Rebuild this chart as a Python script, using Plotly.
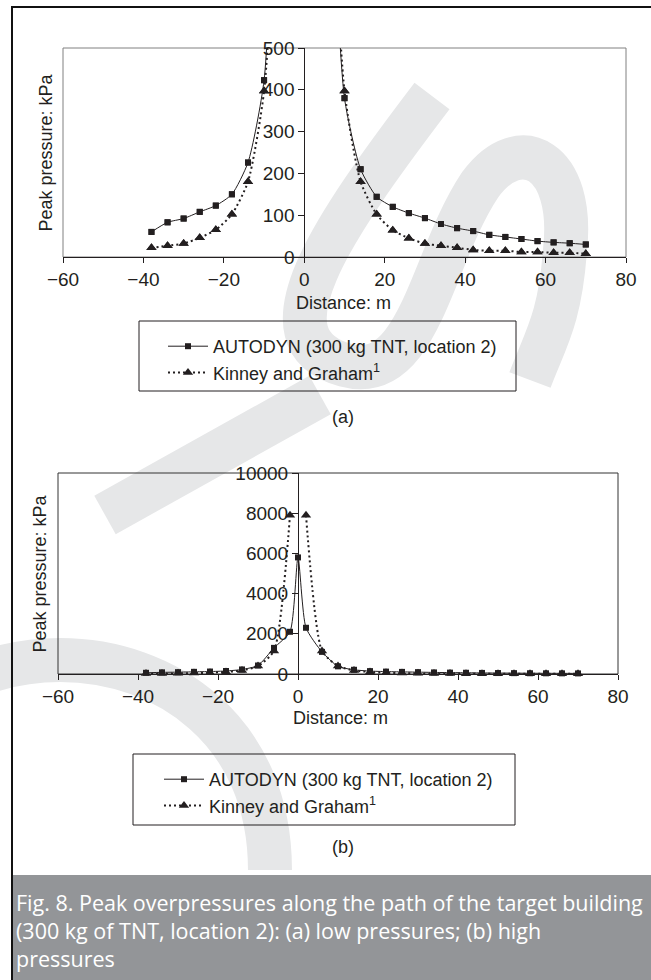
import plotly.graph_objects as go

W, H = 651, 980
FONT = "Liberation Sans, Arial, sans-serif"
CAP_FONT = "Open Sans, Lato, sans-serif"
INK = "#231f20"
MARK = "#e6e7e8"   # light grey watermark

# ---------------- data ----------------
distance_autodyn = [-38, -34, -30, -26, -22, -18, -14, -10, -6, -2, 0, 2, 6,
                    10, 14, 18, 22, 26, 30, 34, 38, 42, 46, 50, 54, 58, 62, 66, 70]
pressure_autodyn = [60, 83, 92, 108, 123, 150, 226, 423, 1300, 2100, 5800, 2300, 1100,
                    380, 210, 144, 120, 105, 93, 79, 69, 62, 53, 48, 43, 38, 35, 33, 30]

distance_kinney_left = [-38, -34, -30, -26, -22, -18, -14, -10, -6, -2]
pressure_kinney_left = [22, 27, 32, 46, 65, 102, 180, 397, 1150, 7900]
distance_kinney_right = [2, 6, 10, 14, 18, 22, 26, 30, 34, 38, 42, 46, 50, 54, 58, 62, 66, 70]
pressure_kinney_right = [7900, 1150, 397, 180, 102, 64, 45, 32, 27, 22, 17, 15, 15, 12, 12, 10, 10, 8]

x_ticks = [-60, -40, -20, 0, 20, 40, 60, 80]
y_ticks_a = [0, 100, 200, 300, 400, 500]
y_ticks_b = [0, 2000, 4000, 6000, 8000, 10000]

name_autodyn = "AUTODYN (300 kg TNT, location 2)"
name_kinney = "Kinney and Graham<sup>1</sup>"

# Kinney curve has a gap at the charge (x = 0)
dist_kinney = distance_kinney_left + [None] + distance_kinney_right
pres_kinney = pressure_kinney_left + [None] + pressure_kinney_right


def px(x):
    return x / W


def py(y):
    return 1 - y / H


def path(cmds):
    """Build an SVG path in paper units from (command, [(x, y), ...]) in pixels."""
    out = []
    for c, pts in cmds:
        out.append(c + " ".join(f"{px(x):.4f},{py(y):.4f}" for x, y in pts))
    return " ".join(out)


# panel geometry (pixels)
A = dict(l=63, r=626, t=48, b=257)
B = dict(l=58, r=618, t=473, b=674)
xr = [x_ticks[0], x_ticks[-1]]

fig = go.Figure()

auto_line = dict(color=INK, width=1, shape="spline", smoothing=0.6)
auto_marker = dict(symbol="square", size=6, color=INK)
kin_line = dict(color=INK, width=2, dash="2px,3px", shape="spline", smoothing=0.6)
kin_marker = dict(symbol="triangle-up", size=9, color=INK)

# ---------- panel (a) ----------
fig.add_trace(go.Scatter(x=distance_autodyn, y=pressure_autodyn, mode="lines+markers",
                         name=name_autodyn, line=auto_line, marker=auto_marker,
                         xaxis="x", yaxis="y", legend="legend", cliponaxis=True))
fig.add_trace(go.Scatter(x=dist_kinney, y=pres_kinney, mode="lines+markers",
                         name=name_kinney, line=kin_line, marker=kin_marker,
                         xaxis="x", yaxis="y", legend="legend", cliponaxis=True))
# markers inside the low-pressure range drawn unclipped (so they sit on the axis)
ymax_a = y_ticks_a[-1]
ia = [(d, p) for d, p in zip(distance_autodyn, pressure_autodyn) if p <= ymax_a]
ik = [(d, p) for d, p in zip(dist_kinney, pres_kinney) if p is not None and p <= ymax_a]
fig.add_trace(go.Scatter(x=[d for d, _ in ia], y=[p for _, p in ia], mode="markers",
                         marker=auto_marker, showlegend=False, xaxis="x", yaxis="y",
                         cliponaxis=False, hoverinfo="skip"))
fig.add_trace(go.Scatter(x=[d for d, _ in ik], y=[p for _, p in ik], mode="markers",
                         marker=kin_marker, showlegend=False, xaxis="x", yaxis="y",
                         cliponaxis=False, hoverinfo="skip"))

# ---------- panel (b) ----------
fig.add_trace(go.Scatter(x=distance_autodyn, y=pressure_autodyn, mode="lines+markers",
                         name=name_autodyn, line=auto_line, marker=auto_marker,
                         xaxis="x2", yaxis="y2", legend="legend2", cliponaxis=False))
fig.add_trace(go.Scatter(x=dist_kinney, y=pres_kinney, mode="lines+markers",
                         name=name_kinney, line=kin_line, marker=kin_marker,
                         xaxis="x2", yaxis="y2", legend="legend2", cliponaxis=False))


def xaxis_cfg(P, anchor):
    return dict(domain=[px(P["l"]), px(P["r"])], range=xr, tickvals=x_ticks,
                ticks="outside", ticklen=5, tickcolor=INK, showline=True, linecolor=INK,
                linewidth=1, showgrid=False, zeroline=False, anchor=anchor,
                tickfont=dict(family=FONT, size=19, color=INK), automargin=False)


def yaxis_cfg(P, ticks, fmt):
    pos = px(P["l"]) + (0 - xr[0]) / (xr[1] - xr[0]) * (px(P["r"]) - px(P["l"]))
    return dict(domain=[py(P["b"]), py(P["t"])], range=[ticks[0], ticks[-1]], tickvals=ticks,
                tickformat=fmt, ticks="outside", ticklen=6, tickcolor=INK, showline=True,
                linecolor=INK, linewidth=1, showgrid=False, zeroline=False, anchor="free",
                position=pos, tickfont=dict(family=FONT, size=19, color=INK), automargin=False)


shapes = []
# background watermark (light grey swooshes)
wm = dict(type="path", xref="paper", yref="paper", layer="below",
          line=dict(color=MARK, width=44), fillcolor="rgba(0,0,0,0)")
shapes.append(dict(path=path([("M", [(432, 96)]),
                              ("C", [(330, 230), (255, 340), (345, 365)]),
                              ("C", [(420, 385), (430, 260), (480, 185)]),
                              ("C", [(520, 130), (575, 160), (565, 250)]),
                              ("C", [(560, 320), (545, 340), (530, 380)])]), **wm))
shapes.append(dict(path=path([("M", [(320, 395)]), ("L", [(105, 515), (335, 645)])]), **wm))
shapes.append(dict(path=path([("M", [(-150, 870)]),
                              ("C", [(-150, 590), (270, 590), (270, 870)])]), **wm))
# page frame
shapes.append(dict(type="line", xref="paper", yref="paper", x0=px(11), x1=1, y0=py(7), y1=py(7),
                   line=dict(color="#111", width=2)))
shapes.append(dict(type="line", xref="paper", yref="paper", x0=px(12), x1=px(12), y0=py(6), y1=0,
                   line=dict(color="#111", width=2)))
# caption band
shapes.append(dict(type="rect", xref="paper", yref="paper", x0=px(13), x1=1, y0=0, y1=py(875),
                   fillcolor="#939598", line=dict(width=0), layer="below"))
# plot frames
shapes.append(dict(type="rect", xref="x domain", yref="y domain", x0=0, x1=1, y0=0, y1=1,
                   line=dict(color="#808080", width=1), layer="below"))
shapes.append(dict(type="rect", xref="x2 domain", yref="y2 domain", x0=0, x1=1, y0=0, y1=1,
                   line=dict(color="#333333", width=1), layer="below"))
# legend boxes
shapes.append(dict(type="rect", xref="paper", yref="paper", x0=px(139), x1=px(516),
                   y0=py(391), y1=py(321), line=dict(color=INK, width=1)))
shapes.append(dict(type="rect", xref="paper", yref="paper", x0=px(133), x1=px(515),
                   y0=py(825), y1=py(754), line=dict(color=INK, width=1)))


def label(text, x, y, **kw):
    d = dict(text=text, x=px(x), y=py(y), xref="paper", yref="paper", xanchor="center",
             yanchor="middle", showarrow=False, font=dict(family=FONT, size=18, color=INK))
    d.update(kw)
    return d


ann = []
ann.append(label("Peak pressure: kPa", 45, (A["t"] + A["b"]) / 2, textangle=-90))
ann.append(label("Peak pressure: kPa", 39, (B["t"] + B["b"]) / 2, textangle=-90))
ann.append(label("Distance: m", 343, 303))
ann.append(label("Distance: m", 340, 718))
ann.append(label("(a)", 343, 417))
ann.append(label("(b)", 343, 847))
ann.append(dict(text="Fig. 8. Peak overpressures along the path of the target building<br>"
                     "(300 kg of TNT, location 2): (a) low pressures; (b) high<br>pressures",
                x=px(14), y=py(886), xref="paper", yref="paper", xanchor="left", yanchor="top",
                align="left", showarrow=False,
                font=dict(family=CAP_FONT, size=21.5, color="white")))

leg_common = dict(xanchor="left", yanchor="top", bgcolor="rgba(0,0,0,0)", borderwidth=0,
                  font=dict(family=FONT, size=18, color=INK), itemwidth=40, tracegroupgap=0)

fig.update_layout(
    width=W, height=H, margin=dict(l=0, r=0, t=0, b=0),
    paper_bgcolor="white", plot_bgcolor="rgba(0,0,0,0)", template="none",
    xaxis=xaxis_cfg(A, "y"), yaxis=yaxis_cfg(A, y_ticks_a, "d"),
    xaxis2=xaxis_cfg(B, "y2"), yaxis2=yaxis_cfg(B, y_ticks_b, "d"),
    legend=dict(x=px(163), y=py(328), **leg_common),
    legend2=dict(x=px(159), y=py(761), **leg_common),
    shapes=shapes, annotations=ann,
)

fig.write_html("out.html")
